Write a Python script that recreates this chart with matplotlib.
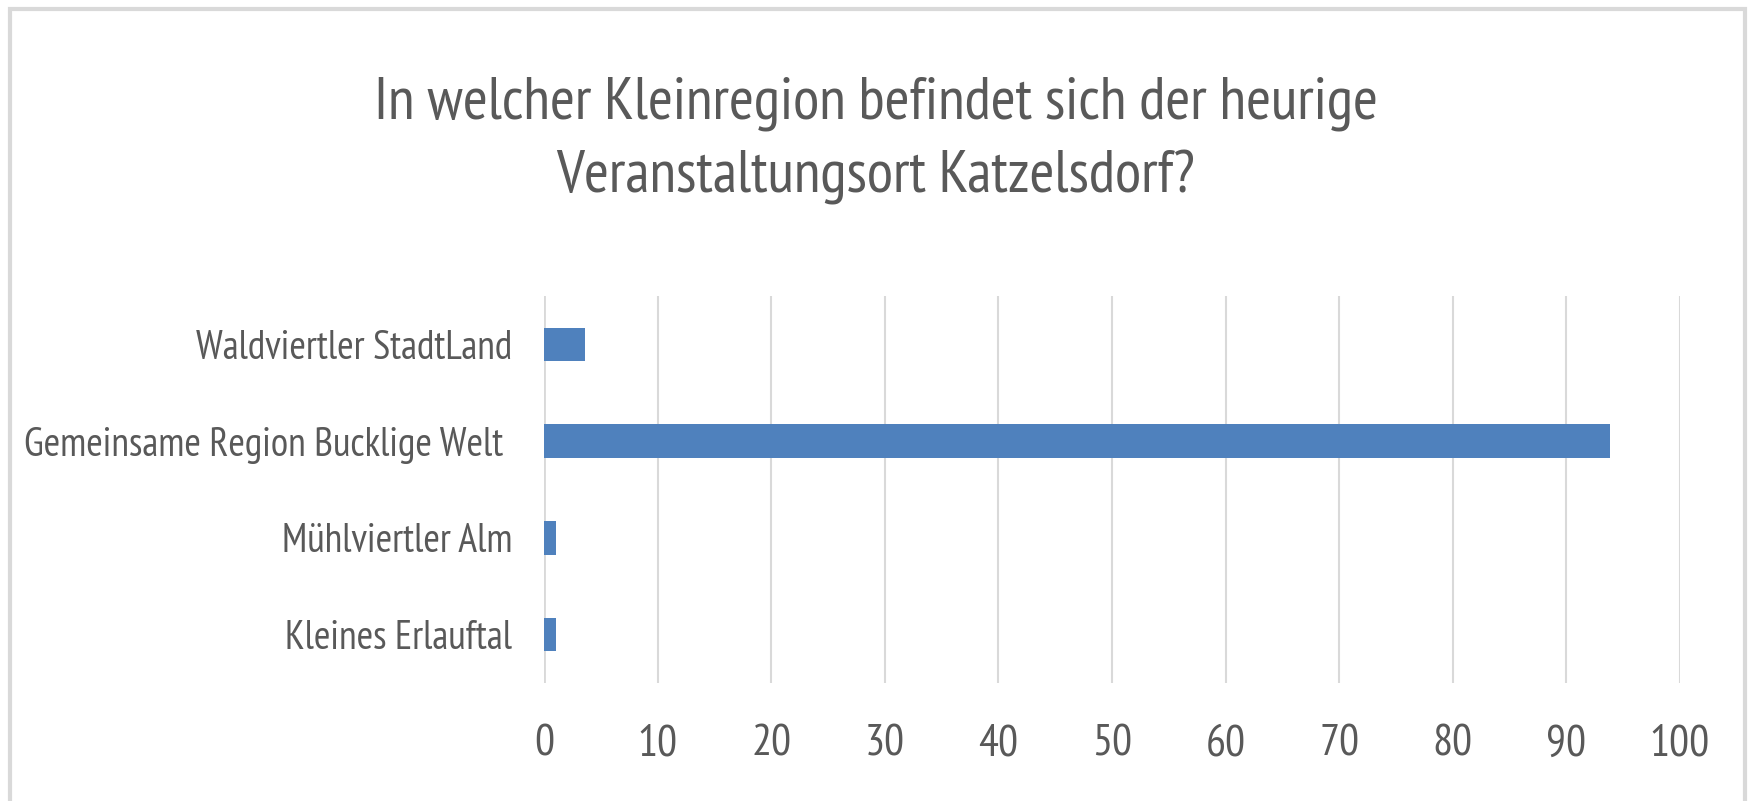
import matplotlib
matplotlib.use('Agg')
import matplotlib.pyplot as plt
from matplotlib.patches import Rectangle

plt.rcParams['font.family'] = ['PT Sans Narrow', 'Fira Sans Condensed', 'DejaVu Sans']

# data, top to bottom as in the chart
kategorien = ['Waldviertler StadtLand', 'Gemeinsame Region Bucklige Welt ',
              'Mühlviertler Alm', 'Kleines Erlauftal']
werte = [3.6, 93.8, 1.1, 1.1]
xticks = [0, 10, 20, 30, 40, 50, 60, 70, 80, 90, 100]
titel = 'In welcher Kleinregion befindet sich der heurige\nVeranstaltungsort Katzelsdorf?'

grau = '#595959'
linie = '#d9d9d9'
blau = '#4f81bd'

fig = plt.figure(figsize=(17.52, 8.01), dpi=100)
ax = fig.add_axes([544/1752, 1 - 683/801, (1680 - 544)/1752, (683 - 296)/801])

pos = list(range(len(kategorien)))[::-1]
ax.barh(pos, werte, height=0.345, color=blau, zorder=3)

ax.set_xlim(0, 100)
ax.set_ylim(-0.5, len(kategorien) - 0.5)
ax.set_xticks(xticks)
ax.set_xticklabels([str(t) for t in xticks], fontsize=32, color=grau)
ax.set_yticks(pos)
ax.set_yticklabels(kategorien, fontsize=28.7, color=grau)
ax.tick_params(axis='y', length=0, pad=23)
ax.tick_params(axis='x', length=0, pad=30)
ax.grid(axis='x', color=linie, linewidth=1.5, zorder=0)
for s in ax.spines.values():
    s.set_visible(False)
ax.axvline(0, color=linie, linewidth=2, zorder=2)

fig.text(0.5, 1 - 141/801, titel, ha='center', va='center', fontsize=43.5,
         color=grau, linespacing=1.45)

# outer chart frame
fig.patches.append(Rectangle((10/1752, -0.01), (1745 - 10)/1752, 1 - 9/801 + 0.01,
                             transform=fig.transFigure, fill=False,
                             edgecolor=linie, linewidth=3))

fig.savefig('out.png', dpi=100)
